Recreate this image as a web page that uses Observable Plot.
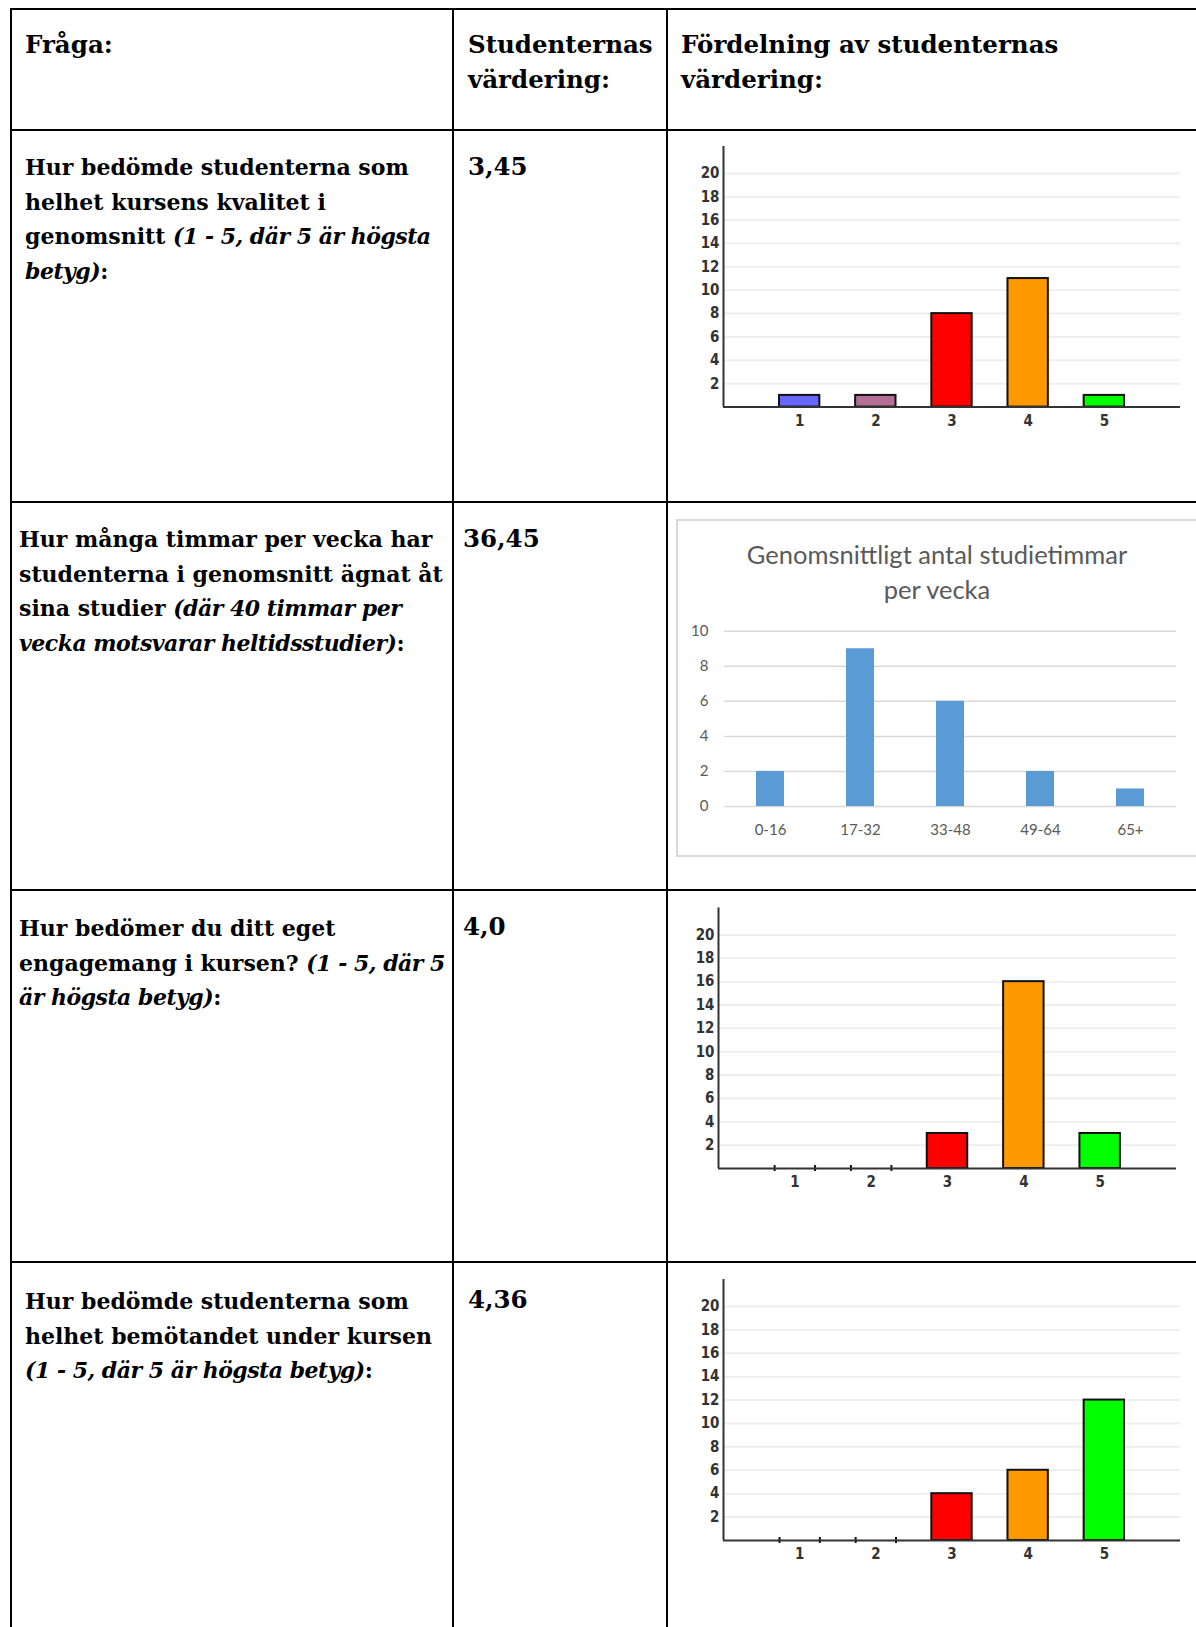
<!DOCTYPE html>
<html><head><meta charset="utf-8">
<script src="https://cdn.jsdelivr.net/npm/d3@7"></script>
<script src="https://cdn.jsdelivr.net/npm/@observablehq/plot@0.6"></script>
<style>
html,body{margin:0;padding:0;background:#fff;}
body{width:1196px;height:1627px;overflow:hidden;position:relative;}
.hl{position:absolute;height:2px;background:#000;left:10px;width:1186px;}
.vl{position:absolute;width:2px;background:#000;top:8px;height:1619px;}
.t{position:absolute;font-family:"DejaVu Serif",serif;font-weight:bold;font-size:22px;line-height:34.5px;white-space:nowrap;color:#000;}
.t i{font-style:italic;letter-spacing:-0.5px;}
.h{font-size:24.5px;line-height:35px;}
.chart{position:absolute;}
.frame{position:absolute;left:676px;top:519px;width:540px;height:334px;border:2px solid #d9d9d9;box-sizing:content-box;}
.ctitle{position:absolute;left:676px;width:522px;top:537px;text-align:center;font-family:Lato,sans-serif;font-size:25.5px;line-height:35px;color:#595959;}
</style></head><body>

<div class="hl" style="top:8px"></div>
<div class="hl" style="top:129px"></div>
<div class="hl" style="top:501px"></div>
<div class="hl" style="top:889px"></div>
<div class="hl" style="top:1261px"></div>
<div class="vl" style="left:10px"></div>
<div class="vl" style="left:452px"></div>
<div class="vl" style="left:666px"></div>

<div class="t h" style="left:25px;top:27px">Fråga:</div>
<div class="t h" style="left:468px;top:27px">Studenternas<br>värdering:</div>
<div class="t h" style="left:681px;top:27px">Fördelning av studenternas<br>värdering:</div>

<div class="t" style="left:25px;top:150px">Hur bedömde studenterna som<br>helhet kursens kvalitet i<br>genomsnitt <i>(1 - 5, där 5 är högsta<br>betyg)</i>:</div>
<div class="t" style="left:19px;top:522px">Hur många timmar per vecka har<br>studenterna i genomsnitt ägnat åt<br>sina studier <i>(där 40 timmar per<br>vecka motsvarar heltidsstudier)</i>:</div>
<div class="t" style="left:19px;top:911px">Hur bedömer du ditt eget<br>engagemang i kursen? <i>(1 - 5, där 5<br>är högsta betyg)</i>:</div>
<div class="t" style="left:25px;top:1284px">Hur bedömde studenterna som<br>helhet bemötandet under kursen<br><i>(1 - 5, där 5 är högsta betyg)</i>:</div>

<div class="t h" id="a0" style="left:468px;top:149px"></div>
<div class="t h" id="a1" style="left:463px;top:521px"></div>
<div class="t h" id="a2" style="left:463px;top:909px"></div>
<div class="t h" id="a3" style="left:468px;top:1282px"></div>

<div class="frame"></div>
<div class="ctitle">Genomsnittligt antal studietimmar<br>per vecka</div>

<div class="chart" id="c1" style="left:668px;top:132px"></div>
<div class="chart" id="c2" style="left:678px;top:610px"></div>
<div class="chart" id="c3" style="left:668px;top:892px"></div>
<div class="chart" id="c4" style="left:668px;top:1264px"></div>

<script>
// ---- data ----
const averages = ["3,45", "36,45", "4,0", "4,36"];
const ratingLabels = ["1", "2", "3", "4", "5"];
const ratingColors = ["#6666ff", "#b36f95", "#ff0000", "#ff9900", "#00ff00"];
const q1Counts = [1, 1, 8, 11, 1];
const q3Counts = [0, 0, 3, 16, 3];
const q4Counts = [0, 0, 4, 6, 12];
const ratingTicks = [2, 4, 6, 8, 10, 12, 14, 16, 18, 20];
const hourBins = ["0-16", "17-32", "33-48", "49-64", "65+"];
const hourCounts = [2, 9, 6, 2, 1];
const hourTicks = [0, 2, 4, 6, 8, 10];

averages.forEach((a, i) => document.getElementById("a" + i).textContent = a);

const barHalf = 0.265;
function ratingChart(counts, o) {
  const data = counts.map((v, i) => ({k: i + 1, v, color: ratingColors[i]}));
  const zeroEdges = data.filter(d => d.v === 0).flatMap(d => [{x: d.k - barHalf}, {x: d.k + barHalf}]);
  return Plot.plot({
    width: o.width, height: o.height,
    marginLeft: o.ml, marginRight: o.mr, marginTop: o.mt, marginBottom: o.mb,
    style: {fontFamily: '"Liberation Sans Narrow","DejaVu Sans Condensed","Liberation Sans",sans-serif', fontSize: "15px", fontWeight: "bold", color: "#333", background: "transparent", overflow: "visible"},
    x: {domain: [0, 6], axis: null},
    y: {domain: [0, 22.3], axis: null},
    color: {type: "identity"},
    marks: [
      Plot.ruleY(ratingTicks, {stroke: "#eeeeee", strokeWidth: 2}),
      Plot.rectY(data.filter(d => d.v > 0), {x1: d => d.k - barHalf, x2: d => d.k + barHalf, y1: 0, y2: "v", fill: "color", stroke: "#111", strokeWidth: 2}),
      Plot.ruleX(zeroEdges, {x: "x", y1: 0, y2: 0, insetTop: -3, insetBottom: -3, stroke: "#111", strokeWidth: 2}),
      Plot.ruleX([0], {stroke: "#333", strokeWidth: 2}),
      Plot.ruleY([0], {stroke: "#333", strokeWidth: 2}),
      Plot.axisY({ticks: ratingTicks, tickSize: 0, tickPadding: 4, label: null}),
      Plot.axisX({ticks: [1, 2, 3, 4, 5], tickSize: 0, tickPadding: 8, label: null, tickFormat: d => ratingLabels[d - 1]})
    ]
  });
}

document.getElementById("c1").append(ratingChart(q1Counts, {width: 528, height: 300, ml: 55, mr: 16, mt: 14, mb: 25.4}));
document.getElementById("c3").append(ratingChart(q3Counts, {width: 528, height: 301.4, ml: 50, mr: 20, mt: 15.6, mb: 25.4}));
document.getElementById("c4").append(ratingChart(q4Counts, {width: 528, height: 301.4, ml: 55, mr: 16, mt: 15, mb: 25.4}));

const hourData = hourBins.map((b, i) => ({bin: b, v: hourCounts[i]}));
document.getElementById("c2").append(Plot.plot({
  width: 518, height: 240, marginLeft: 46, marginRight: 20, marginTop: 20.7, marginBottom: 44,
  style: {fontFamily: "Lato,sans-serif", fontSize: "15px", color: "#595959", background: "transparent", overflow: "visible"},
  x: {domain: hourBins, paddingInner: 0.69, paddingOuter: 0.345, axis: null},
  y: {domain: [0, 10], axis: null},
  marks: [
    Plot.ruleY(hourTicks, {stroke: "#d9d9d9", strokeWidth: 1.5}),
    Plot.barY(hourData, {x: "bin", y: "v", fill: "#5b9bd5"}),
    Plot.axisY({ticks: hourTicks, tickSize: 0, tickPadding: 16, label: null}),
    Plot.axisX({tickSize: 0, tickPadding: 18, label: null})
  ]
}));
</script>
</body></html>
